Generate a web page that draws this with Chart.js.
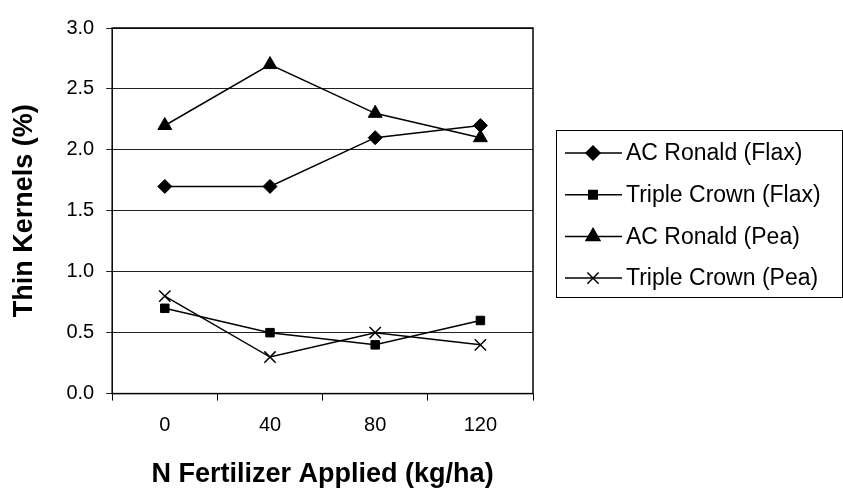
<!DOCTYPE html>
<html>
<head>
<meta charset="utf-8">
<script src="https://cdn.jsdelivr.net/npm/chart.js@4"></script>
<style>
  body { margin: 0; background: #fff; }
  #wrap { width: 843px; height: 492px; }
</style>
</head>
<body>
<div id="wrap"><canvas id="thinChart"></canvas></div>
<script>
const nRates = ['0', '40', '80', '120'];
const acRonaldFlax = [1.7, 1.7, 2.1, 2.2];
const tripleCrownFlax = [0.7, 0.5, 0.4, 0.6];
const acRonaldPea = [2.2, 2.7, 2.3, 2.1];
const tripleCrownPea = [0.8, 0.3, 0.5, 0.4];

const seriesNames = ['AC Ronald (Flax)', 'Triple Crown (Flax)', 'AC Ronald (Pea)', 'Triple Crown (Pea)'];
const yTicks = [0, 0.5, 1.0, 1.5, 2.0, 2.5, 3.0];

const ctx = document.getElementById('thinChart').getContext('2d');

function series(label, data, pointStyle, radius) {
  return {
    label,
    data,
    borderColor: '#000',
    backgroundColor: '#000',
    borderWidth: 1.5,
    pointStyle,
    pointRadius: radius,
    pointBorderWidth: pointStyle === 'crossRot' ? 1.5 : 1,
    pointBackgroundColor: '#000',
    pointBorderColor: '#000',
    tension: 0,
  };
}

// frame round the plot area plus a boxed legend on the right
const framePlugin = {
  id: 'frame',
  afterDraw(chart) {
    const { ctx, chartArea } = chart;
    ctx.save();
    ctx.strokeStyle = '#000';
    ctx.lineWidth = 1.5;
    ctx.strokeRect(chartArea.left, chartArea.top, chartArea.right - chartArea.left, chartArea.bottom - chartArea.top);

    const boxLeft = chartArea.right + 23;
    const boxTop = 130;
    ctx.lineWidth = 1;
    ctx.strokeRect(boxLeft + 0.5, boxTop + 0.5, 286, 167);

    ctx.font = '23px "Liberation Sans", Arial, sans-serif';
    ctx.textBaseline = 'middle';
    ctx.fillStyle = '#000';
    chart.data.datasets.forEach((ds, i) => {
      const y = boxTop + 23 + i * 41.7;
      ctx.beginPath();
      ctx.moveTo(boxLeft + 9, y);
      ctx.lineTo(boxLeft + 66, y);
      ctx.strokeStyle = '#000';
      ctx.lineWidth = 1.5;
      ctx.stroke();
      Chart.helpers.drawPoint(ctx, {
        pointStyle: ds.pointStyle,
        radius: ds.pointRadius,
        borderWidth: ds.pointBorderWidth,
        rotation: 0,
      }, boxLeft + 37, y);
      ctx.fillText(ds.label, boxLeft + 70, y + 1);
    });
    ctx.restore();
  }
};

new Chart(ctx, {
  type: 'line',
  data: {
    labels: nRates,
    datasets: [
      series(seriesNames[0], acRonaldFlax, 'rectRot', 7),
      series(seriesNames[1], tripleCrownFlax, 'rect', 6),
      series(seriesNames[2], acRonaldPea, 'triangle', 8),
      series(seriesNames[3], tripleCrownPea, 'crossRot', 8),
    ],
  },
  options: {
    responsive: true,
    maintainAspectRatio: false,
    animation: false,
    layout: {
      padding: { left: 8, right: 310, top: 28, bottom: 1 },
    },
    plugins: {
      legend: { display: false },
      tooltip: { enabled: false },
    },
    scales: {
      x: {
        offset: true,
        grid: {
          offset: true,
          drawOnChartArea: false,
          drawTicks: true,
          tickLength: 7,
          color: '#000',
        },
        border: { display: false },
        ticks: {
          color: '#000',
          padding: 13,
          font: { family: '"Liberation Sans", Arial, sans-serif', size: 20 },
        },
        title: {
          display: true,
          text: 'N Fertilizer Applied (kg/ha)',
          color: '#000',
          padding: { top: 8, bottom: 0 },
          font: { family: '"Liberation Sans", Arial, sans-serif', size: 27, weight: 'bold' },
        },
      },
      y: {
        min: 0,
        max: 3,
        afterBuildTicks: axis => {
          axis.ticks = yTicks.map(v => ({ value: v }));
        },
        grid: {
          color: '#222',
          lineWidth: 1,
          tickLength: 6,
        },
        border: { display: false },
        ticks: {
          color: '#000',
          padding: 12,
          callback: value => value.toFixed(1),
          font: { family: '"Liberation Sans", Arial, sans-serif', size: 20 },
        },
        title: {
          display: true,
          text: 'Thin Kernels (%)',
          color: '#000',
          padding: { top: 0, bottom: 14 },
          font: { family: '"Liberation Sans", Arial, sans-serif', size: 27, weight: 'bold' },
        },
      },
    },
  },
  plugins: [framePlugin],
});
</script>
</body>
</html>
